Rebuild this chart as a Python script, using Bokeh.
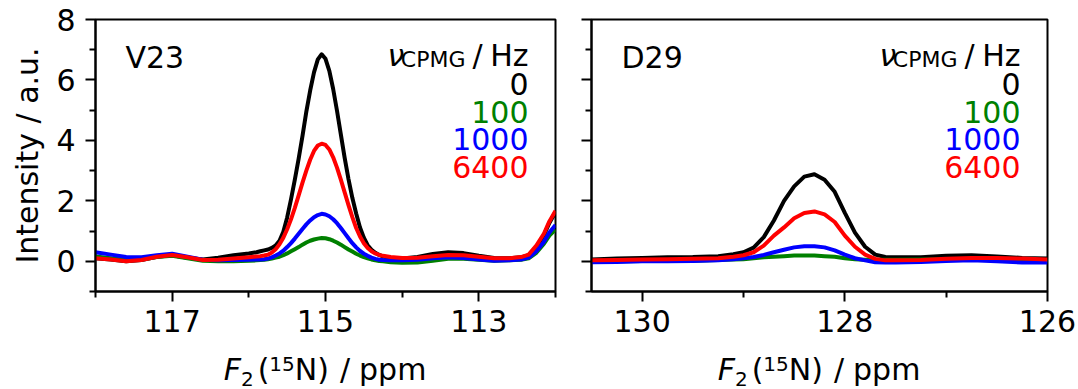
from bokeh.plotting import figure
from bokeh.layouts import row, column
from bokeh.models import Range1d, FixedTicker, Label, Div, CustomJSTickFormatter
from bokeh.embed import file_html
from bokeh.resources import INLINE

# ---------------- data ----------------
series_labels = ["0", "100", "1000", "6400"]
series_colors = ["#000000", "#008000", "#0000ff", "#ff0000"]

# V23 panel: F2 (15N) chemical shift, ppm
v23_ppm = [118.0, 117.8, 117.6, 117.4, 117.2, 117.0, 116.8, 116.6, 116.4, 116.2, 116.0, 115.9,
           115.85, 115.8, 115.75, 115.7, 115.65, 115.6, 115.55, 115.5, 115.45, 115.4, 115.35,
           115.3, 115.25, 115.2, 115.15, 115.1, 115.05, 115.0, 114.95, 114.9, 114.85, 114.8,
           114.75, 114.7, 114.65, 114.6, 114.55, 114.5, 114.45, 114.4, 114.35, 114.3, 114.25,
           114.15, 114.0, 113.8, 113.6, 113.4, 113.2, 113.0, 112.8, 112.6, 112.45, 112.35,
           112.25, 112.15, 112.08, 112.0]
v23_0 = [0.10, 0.06, 0.00, 0.04, 0.15, 0.20, 0.12, 0.06, 0.12, 0.20, 0.26, 0.30,
         0.33, 0.36, 0.39, 0.44, 0.52, 0.68, 0.98, 1.45, 2.05, 2.70, 3.40,
         4.15, 4.95, 5.65, 6.25, 6.68, 6.85, 6.70, 6.30, 5.70, 4.98, 4.20,
         3.42, 2.72, 2.10, 1.58, 1.12, 0.78, 0.53, 0.38, 0.28, 0.21, 0.16,
         0.11, 0.09, 0.14, 0.24, 0.30, 0.27, 0.18, 0.11, 0.10, 0.13, 0.20,
         0.47, 0.87, 1.27, 1.63]
v23_100 = [0.16, 0.10, 0.04, 0.06, 0.14, 0.18, 0.10, 0.02, 0.00, 0.00, 0.02, 0.03,
           0.04, 0.05, 0.07, 0.09, 0.12, 0.15, 0.20, 0.26, 0.33, 0.40, 0.47,
           0.55, 0.62, 0.68, 0.72, 0.75, 0.77, 0.76, 0.73, 0.68, 0.62, 0.55,
           0.47, 0.39, 0.32, 0.25, 0.19, 0.14, 0.10, 0.06, 0.03, 0.01, 0.00,
           -0.03, -0.05, -0.04, 0.02, 0.08, 0.08, 0.05, 0.02, 0.03, 0.05, 0.10,
           0.28, 0.58, 0.85, 1.05]
v23_1000 = [0.30, 0.22, 0.14, 0.13, 0.20, 0.25, 0.15, 0.05, 0.03, 0.04, 0.05, 0.06,
            0.06, 0.07, 0.09, 0.13, 0.19, 0.26, 0.35, 0.47, 0.60, 0.75, 0.91,
            1.07, 1.22, 1.35, 1.46, 1.53, 1.57, 1.55, 1.49, 1.39, 1.26, 1.10,
            0.93, 0.76, 0.60, 0.46, 0.34, 0.25, 0.18, 0.12, 0.08, 0.05, 0.04,
            0.03, 0.03, 0.05, 0.10, 0.13, 0.11, 0.06, 0.02, 0.03, 0.06, 0.12,
            0.33, 0.65, 0.95, 1.20]
v23_6400 = [0.10, 0.06, 0.00, 0.04, 0.15, 0.21, 0.13, 0.04, 0.05, 0.09, 0.13, 0.16,
            0.17, 0.19, 0.22, 0.29, 0.40, 0.56, 0.78, 1.06, 1.39, 1.77, 2.18,
            2.60, 3.00, 3.36, 3.65, 3.83, 3.89, 3.85, 3.70, 3.44, 3.10, 2.70,
            2.28, 1.86, 1.46, 1.10, 0.82, 0.60, 0.44, 0.33, 0.26, 0.21, 0.18,
            0.14, 0.11, 0.12, 0.17, 0.21, 0.20, 0.15, 0.10, 0.10, 0.14, 0.22,
            0.52, 0.92, 1.32, 1.67]

# D29 panel
d29_ppm = [130.5, 130.25, 130.0, 129.75, 129.5, 129.25, 129.1, 129.0, 128.9, 128.8, 128.7,
           128.6, 128.5, 128.4, 128.3, 128.2, 128.1, 128.0, 127.9, 127.8, 127.7, 127.6,
           127.5, 127.25, 127.0, 126.75, 126.5, 126.25, 126.0]
d29_0 = [0.06, 0.09, 0.11, 0.13, 0.14, 0.17, 0.23, 0.30, 0.45, 0.80, 1.35,
         2.00, 2.48, 2.80, 2.88, 2.70, 2.30, 1.60, 0.95, 0.48, 0.22, 0.14,
         0.13, 0.13, 0.18, 0.20, 0.16, 0.11, 0.09]
d29_100 = [-0.01, 0.00, 0.01, 0.01, 0.02, 0.04, 0.06, 0.07, 0.10, 0.13, 0.15,
           0.17, 0.19, 0.19, 0.19, 0.17, 0.15, 0.10, 0.07, 0.05, 0.05, 0.05,
           0.05, 0.06, 0.06, 0.06, 0.04, 0.02, 0.02]
d29_1000 = [-0.03, -0.02, 0.00, 0.00, 0.01, 0.03, 0.07, 0.10, 0.14, 0.21, 0.30,
            0.38, 0.46, 0.50, 0.50, 0.46, 0.36, 0.22, 0.10, 0.03, -0.03, -0.04,
            -0.04, -0.02, 0.01, 0.03, 0.00, -0.04, -0.04]
d29_6400 = [0.03, 0.04, 0.06, 0.07, 0.08, 0.10, 0.15, 0.20, 0.30, 0.52, 0.85,
            1.12, 1.42, 1.60, 1.65, 1.55, 1.30, 0.85, 0.48, 0.22, 0.08, 0.03,
            0.03, 0.04, 0.08, 0.11, 0.11, 0.09, 0.06]

y_ticks = [0, 2, 4, 6, 8]
y_minor = [-1, 1, 3, 5, 7]
v23_xticks = [117, 115, 113]
v23_xminor = [118, 116, 114, 112]
d29_xticks = [130, 128, 126]
d29_xminor = [129, 127]

FONT = "DejaVu Sans"
FS = "30px"
FIG_H = 350      # plot height; x-axis title is a Div below it
DIV_H = 39
TOP, BOTTOM = 19, 291


def style(p, xt, xm, show_ylabels):
    p.outline_line_color = "black"
    p.outline_line_width = 2
    p.xgrid.visible = False
    p.ygrid.visible = False
    p.background_fill_color = "white"
    p.border_fill_color = "white"
    p.xaxis.ticker = FixedTicker(ticks=xt, minor_ticks=xm)
    p.yaxis.ticker = FixedTicker(ticks=y_ticks, minor_ticks=y_minor)
    for ax in (p.xaxis[0], p.yaxis[0]):
        ax.axis_line_width = 2
        ax.major_tick_line_width = 2
        ax.minor_tick_line_width = 2
        ax.major_tick_in = 0
        ax.minor_tick_in = 0
        ax.major_tick_out = 10
        ax.minor_tick_out = 6
        ax.major_label_text_font = FONT
        ax.major_label_text_font_size = FS
        ax.major_label_text_color = "black"
    p.xaxis.major_label_standoff = 8
    p.yaxis.major_label_standoff = 10
    if not show_ylabels:
        p.yaxis.formatter = CustomJSTickFormatter(code="return ''")
        p.yaxis.major_label_standoff = 0


def xtitle(width, cx):
    sub = 'font-size:20px;position:relative;top:6px;'
    sup = 'font-size:20px;position:relative;top:-9px;'
    inner = ('<i>F</i><span style="%s">2</span>'
             '<span style="margin-left:4px">(</span><span style="%s">15</span>N)'
             '<span style="margin-left:11px">/</span>'
             '<span style="margin-left:9px">ppm</span>') % (sub, sup)
    html = ('<div style="position:relative;width:%dpx;height:%dpx;'
            'font-family:\'DejaVu Sans\';font-size:30px;line-height:30px;color:black;">'
            '<div style="position:absolute;left:%dpx;width:300px;top:5px;'
            'text-align:center;white-space:nowrap;">%s</div></div>') % (
        width, DIV_H, int(cx - 150), inner)
    return Div(text=html, width=width, height=DIV_H, margin=0)


def panel(width, left, fw, xr, ppm, ys, name, show_ylabels, xt, xm):
    p = figure(width=width, height=FIG_H, x_range=Range1d(*xr), y_range=Range1d(-1, 8),
               output_backend="svg", toolbar_location=None,
               min_border_left=left, min_border_right=width - left - fw,
               min_border_top=TOP, min_border_bottom=FIG_H - BOTTOM, margin=0)
    style(p, xt, xm, show_ylabels)
    for yv_, c in zip(ys, series_colors):
        p.line(ppm, yv_, line_color=c, line_width=4, line_join="round")

    x0, x1 = left, left + fw

    def dx(px):
        return xr[0] + (px - x0) * (xr[1] - xr[0]) / fw

    def dy(py):
        return 8 - (py - TOP) * 9 / (BOTTOM - TOP)

    def lab(px, py, text, size=FS, align="left", color="black", style_="normal"):
        p.add_layout(Label(x=dx(px), y=dy(py), text=text, text_font=FONT,
                           text_font_size=size, text_align=align,
                           text_baseline="alphabetic", text_color=color,
                           text_font_style=style_))

    # residue name
    lab(x0 + 30, 57, name)
    # legend header
    R = x1 - 27
    lab(R, 55, "Hz", align="right")
    lab(R - 46, 55, "/", align="right")
    lab(R - 63, 59, "CPMG", size="22px", align="right")
    lab(R - 141, 55, "\u03bd", style_="italic")
    for i, (t, c) in enumerate(zip(series_labels, series_colors)):
        lab(R, 83.3 + 27.8 * i, t, align="right", color=c)

    return column(p, xtitle(width, (x0 + x1) / 2), spacing=0), p


c1, p1 = panel(560, 95, 460, (118, 112), v23_ppm, [v23_0, v23_100, v23_1000, v23_6400],
               "V23", True, v23_xticks, v23_xminor)
p1.yaxis.axis_label = "Intensity / a.u."
p1.yaxis.axis_label_text_font = FONT
p1.yaxis.axis_label_text_font_size = FS
p1.yaxis.axis_label_text_font_style = "normal"
p1.yaxis.axis_label_text_color = "black"
p1.yaxis.axis_label_standoff = 8

c2, p2 = panel(518, 31, 456, (130.5, 126), d29_ppm, [d29_0, d29_100, d29_1000, d29_6400],
               "D29", False, d29_xticks, d29_xminor)

layout = row(c1, c2, spacing=0)
open("out.html", "w").write(file_html(layout, INLINE))
